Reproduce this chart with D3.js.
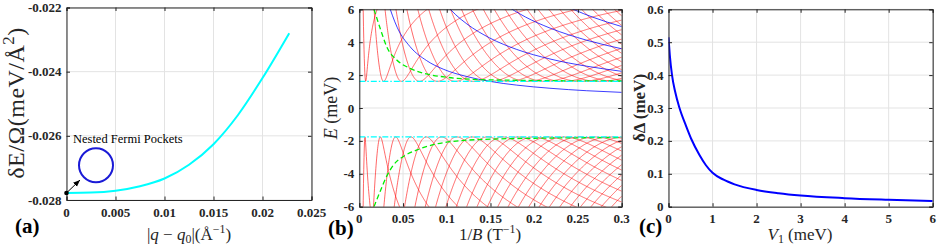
<!DOCTYPE html>
<html><head><meta charset="utf-8">
<script src="https://cdn.jsdelivr.net/npm/d3@7"></script>
<style>body{margin:0;background:#fff}svg{display:block}</style>
</head><body>
<svg id="c" width="941" height="248"></svg>
<script>
// ---------- Panel (a) data ----------
const aQ  = [0, 0.0025, 0.005, 0.0075, 0.01, 0.0125, 0.015, 0.0175, 0.02, 0.02273];
const aDE = [-0.02778, -0.027768, -0.02771, -0.02757, -0.02733, -0.02690, -0.02626, -0.02535, -0.02420, -0.02280];
const aXTicks = [0, 0.005, 0.01, 0.015, 0.02, 0.025];
const aXTickLabels = ["0", "0.005", "0.01", "0.015", "0.02", "0.025"];
const aYTicks = [-0.028, -0.026, -0.024, -0.022];
const aYTickLabels = ["-0.028", "-0.026", "-0.024", "-0.022"];

// ---------- Panel (b) data ----------
const bGapUpper = 1.62, bGapLower = -1.76;
const bRedUpperMinX = [0.0073, 0.0278, 0.0483, 0.0688, 0.0893, 0.1098, 0.1303, 0.1508, 0.1713, 0.1918, 0.2123, 0.2328, 0.2533, 0.2738, 0.2943, 0.3148, 0.3353, 0.3558, 0.3763, 0.3968, 0.4173, 0.4378, 0.4583, 0.4788];
const bRedUpperScale = 9;
const bRedLowerMaxX = [0.0065, 0.024, 0.0415, 0.059, 0.0765, 0.094, 0.1115, 0.129, 0.1465, 0.164, 0.1815, 0.199, 0.2165, 0.234, 0.2515, 0.269, 0.2865, 0.304, 0.3215, 0.339, 0.3565, 0.374, 0.3915, 0.409, 0.4265, 0.444];
const bRedLowerScale = 12;
const bBlue = [
  {x:[0.032,0.0435,0.058,0.077,0.096,0.123,0.149,0.18,0.218,0.26,0.3], e:[6.53,4.88,3.73,2.88,2.36,1.91,1.62,1.39,1.20,1.05,0.95]},
  {x:[0.098,0.11,0.123,0.149,0.18,0.218,0.26,0.3], e:[6.35,5.68,5.11,4.26,3.56,2.98,2.54,2.23]},
  {x:[0.165,0.19,0.218,0.26,0.3], e:[6.33,5.53,4.86,4.12,3.6]},
  {x:[0.228,0.245,0.267,0.3], e:[6.42,5.99,5.52,4.95]}
];
const bGreenUpperX = [0.0168, 0.0245, 0.0313, 0.0428, 0.058, 0.077, 0.1, 0.13, 0.161, 0.2, 0.25, 0.3];
const bGreenUpperE = [6.0, 4.74, 3.73, 2.92, 2.41, 2.07, 1.87, 1.74, 1.70, 1.67, 1.65, 1.64];
const bGreenLowerX = [0.0168, 0.0237, 0.031, 0.039, 0.05, 0.066, 0.088, 0.115, 0.153, 0.2, 0.25, 0.3];
const bGreenLowerE = [-6, -5.09, -4.18, -3.47, -2.96, -2.55, -2.19, -1.99, -1.89, -1.84, -1.81, -1.80];
const bXTicks = [0, 0.05, 0.1, 0.15, 0.2, 0.25, 0.3];
const bXTickLabels = ["0", "0.05", "0.1", "0.15", "0.2", "0.25", "0.3"];
const bYTicks = [-6, -4, -2, 0, 2, 4, 6];
const bYTickLabels = ["-6", "-4", "-2", "0", "2", "4", "6"];

// ---------- Panel (c) data ----------
const cV1 = [0, 0.03, 0.08, 0.15, 0.25, 0.4, 0.52, 0.7, 0.85, 1.0, 1.25, 1.5, 2, 2.5, 3, 4, 5, 6];
const cDD = [0.515, 0.46, 0.40, 0.35, 0.30, 0.245, 0.205, 0.158, 0.126, 0.103, 0.082, 0.068, 0.051, 0.041, 0.034, 0.026, 0.021, 0.017];
const cXTicks = [0, 1, 2, 3, 4, 5, 6];
const cXTickLabels = ["0", "1", "2", "3", "4", "5", "6"];
const cYTicks = [0, 0.1, 0.2, 0.3, 0.4, 0.5, 0.6];
const cYTickLabels = ["0", "0.1", "0.2", "0.3", "0.4", "0.5", "0.6"];

const svg = d3.select("#c");
const SERIF = "'Liberation Serif','Times New Roman',serif";

function frame(id, x, y, xt, xl, yt, yl, xLabBase) {
  const g = svg.append("g");
  const [x0, x1] = x.range(), [y0, y1] = y.range();
  g.selectAll(null).data(xt).enter().append("line")
    .attr("x1", d => x(d)).attr("x2", d => x(d)).attr("y1", y0).attr("y2", y1)
    .attr("stroke", "#e3e3e3").attr("stroke-width", 1);
  g.selectAll(null).data(yt).enter().append("line")
    .attr("y1", d => y(d)).attr("y2", d => y(d)).attr("x1", x0).attr("x2", x1)
    .attr("stroke", "#e3e3e3").attr("stroke-width", 1);
  const body = svg.append("g");
  svg.append("defs").append("clipPath").attr("id", id)
    .append("rect").attr("x", x0).attr("y", y1).attr("width", x1 - x0).attr("height", y0 - y1);
  const top = svg.append("g");
  const tl = 3.5;
  top.append("g").attr("transform", `translate(0,${y0})`)
    .call(d3.axisBottom(x).tickValues(xt).tickSize(-tl).tickFormat(""));
  top.append("g").attr("transform", `translate(0,${y1})`)
    .call(d3.axisTop(x).tickValues(xt).tickSize(-tl).tickFormat(""));
  top.append("g").attr("transform", `translate(${x0},0)`)
    .call(d3.axisLeft(y).tickValues(yt).tickSize(-tl).tickFormat(""));
  top.append("g").attr("transform", `translate(${x1},0)`)
    .call(d3.axisRight(y).tickValues(yt).tickSize(-tl).tickFormat(""));
  top.selectAll(".domain").attr("stroke", "#262626").attr("stroke-width", 1);
  top.selectAll(".tick line").attr("stroke", "#262626");
  top.selectAll(null).data(xt).enter().append("text")
    .attr("x", d => x(d)).attr("y", xLabBase).attr("text-anchor", "middle")
    .attr("font-family", SERIF).attr("font-weight", "bold").attr("font-size", 13)
    .attr("fill", "#262626").text((d, i) => xl[i]);
  top.selectAll(null).data(yt).enter().append("text")
    .attr("x", x0 - 5).attr("y", d => y(d) + 4.5).attr("text-anchor", "end")
    .attr("font-family", SERIF).attr("font-weight", "bold").attr("font-size", 13)
    .attr("fill", "#262626").text((d, i) => yl[i]);
  return {body: body.attr("clip-path", `url(#${id})`), top};
}

// ================= Panel (a) =================
const xA = d3.scaleLinear().domain([0, 0.025]).range([66.5, 311.5]);
const yA = d3.scaleLinear().domain([-0.028, -0.022]).range([200, 7.5]);
const A = frame("clipA", xA, yA, aXTicks, aXTickLabels, aYTicks, aYTickLabels, 217);
A.body.append("path")
  .attr("d", d3.line().x((d, i) => xA(aQ[i])).y((d, i) => yA(aDE[i])).curve(d3.curveMonotoneX)(aQ))
  .attr("fill", "none").attr("stroke", "#00ffff").attr("stroke-width", 2);
svg.append("circle").attr("cx", xA(0.00301)).attr("cy", yA(-0.026918)).attr("r", 17)
  .attr("fill", "none").attr("stroke", "#1a1ad6").attr("stroke-width", 2);
svg.append("defs").append("marker").attr("id", "arr").attr("viewBox", "0 0 10 10")
  .attr("refX", 10).attr("refY", 5).attr("markerWidth", 7).attr("markerHeight", 7).attr("orient", "auto")
  .append("path").attr("d", "M0,1 L10,5 L0,9 z").attr("fill", "#000");
svg.append("line").attr("x1", xA(0)).attr("y1", yA(-0.02778)).attr("x2", xA(0.00138)).attr("y2", yA(-0.027377))
  .attr("stroke", "#000").attr("stroke-width", 1).attr("marker-end", "url(#arr)");
svg.append("circle").attr("cx", xA(0)).attr("cy", yA(-0.02778)).attr("r", 2.3).attr("fill", "#000");
svg.append("text").attr("x", xA(0.00066)).attr("y", yA(-0.026223)).attr("font-family", SERIF)
  .attr("font-size", 12.5).attr("fill", "#000").text("Nested Fermi Pockets");

// ================= Panel (b) =================
const xB = d3.scaleLinear().domain([0, 0.3]).range([359.3, 621.7]);
const yB = d3.scaleLinear().domain([-6, 6]).range([206.7, 9.3]);
const B = frame("clipB", xB, yB, bXTicks, bXTickLabels, bYTicks, bYTickLabels, 222.5);
const xs = d3.range(0.0003, 0.3003, 0.0003);
const lineB = d3.line().x(d => xB(d[0])).y(d => yB(Math.max(-7, Math.min(7, d[1]))));
bRedUpperMinX.forEach(xn => {
  const pts = xs.map(x => [x, Math.sqrt(bGapUpper * bGapUpper + Math.pow(bRedUpperScale * (xn / x - 1), 2))]);
  B.body.append("path").attr("d", lineB(pts)).attr("fill", "none")
    .attr("stroke", "#ff0000").attr("stroke-opacity", 0.75).attr("stroke-width", 0.8);
});
bRedLowerMaxX.forEach(xn => {
  const pts = xs.map(x => [x, -Math.sqrt(bGapLower * bGapLower + Math.pow(bRedLowerScale * (xn / x - 1), 2))]);
  B.body.append("path").attr("d", lineB(pts)).attr("fill", "none")
    .attr("stroke", "#ff0000").attr("stroke-opacity", 0.75).attr("stroke-width", 0.8);
});
bBlue.forEach(s => {
  B.body.append("path")
    .attr("d", d3.line().x((d, i) => xB(s.x[i])).y((d, i) => yB(s.e[i])).curve(d3.curveMonotoneX)(s.x))
    .attr("fill", "none").attr("stroke", "#0000ff").attr("stroke-opacity", 0.85).attr("stroke-width", 0.9);
});
[[bGreenUpperX, bGreenUpperE], [bGreenLowerX, bGreenLowerE]].forEach(([gx, ge]) => {
  B.body.append("path")
    .attr("d", d3.line().x((d, i) => xB(gx[i])).y((d, i) => yB(ge[i])).curve(d3.curveMonotoneX)(gx))
    .attr("fill", "none").attr("stroke", "#00ee00").attr("stroke-width", 1.3).attr("stroke-dasharray", "5,3");
});
[bGapUpper, bGapLower].forEach(e => {
  B.body.append("line").attr("x1", xB(0)).attr("x2", xB(0.3)).attr("y1", yB(e)).attr("y2", yB(e))
    .attr("stroke", "#00ffff").attr("stroke-width", 1.3).attr("stroke-dasharray", "6,2,1.5,2");
});

// ================= Panel (c) =================
const xC = d3.scaleLinear().domain([0, 6]).range([668.5, 932.7]);
const yC = d3.scaleLinear().domain([0, 0.6]).range([206.7, 9.3]);
const C = frame("clipC", xC, yC, cXTicks, cXTickLabels, cYTicks, cYTickLabels, 222.5);
C.body.append("path")
  .attr("d", d3.line().x((d, i) => xC(cV1[i])).y((d, i) => yC(cDD[i])).curve(d3.curveMonotoneX)(cV1))
  .attr("fill", "none").attr("stroke", "#0000ff").attr("stroke-width", 2);

// ================= Labels =================
function label(x, y, rot, parts, size, bold, ls) {
  const t = svg.append("text").attr("transform", `translate(${x},${y}) rotate(${rot})`)
    .attr("text-anchor", "middle").attr("font-family", SERIF).attr("font-size", size)
    .attr("fill", "#262626");
  if (bold) t.attr("font-weight", "bold");
  if (ls) t.attr("letter-spacing", ls);
  parts.forEach(p => {
    const s = t.append("tspan").text(p.t);
    if (p.i) s.attr("font-style", "italic");
    if (p.sup) s.attr("dy", -size * 0.4).attr("font-size", size * 0.7);
    if (p.sub) s.attr("dy", size * 0.2).attr("font-size", size * 0.7);
    if (p.back) s.attr("dy", p.back * size);
  });
}
label(24, 103, -90, [{t:"δE/Ω(meV/Å"}, {t:"2", sup:1}, {t:")", back:0.4}], 24, false, 0.5);
label(189, 240, 0, [{t:"|"}, {t:"q", i:1}, {t:" − "}, {t:"q", i:1}, {t:"0", sub:1}, {t:"|(Å", back:-0.2}, {t:"−1", sup:1}, {t:")", back:0.4}], 17);
label(337, 108, -90, [{t:"E", i:1}, {t:" (meV)"}], 18);
label(490, 240, 0, [{t:"1/"}, {t:"B", i:1}, {t:" (T"}, {t:"−1", sup:1}, {t:")", back:0.4}], 17);
label(645, 108, -90, [{t:"δΔ (meV)"}], 17, true);
label(800, 240, 0, [{t:"V", i:1}, {t:"1", sub:1}, {t:" (meV)", back:-0.2}], 17);

[["(a)", 15, 233], ["(b)", 328, 235], ["(c)", 639, 233]].forEach(([s, x, y]) => {
  svg.append("text").attr("x", x).attr("y", y).attr("font-family", SERIF).attr("font-weight", "bold")
    .attr("font-size", 21).attr("fill", "#000").text(s);
});
</script></body></html>
